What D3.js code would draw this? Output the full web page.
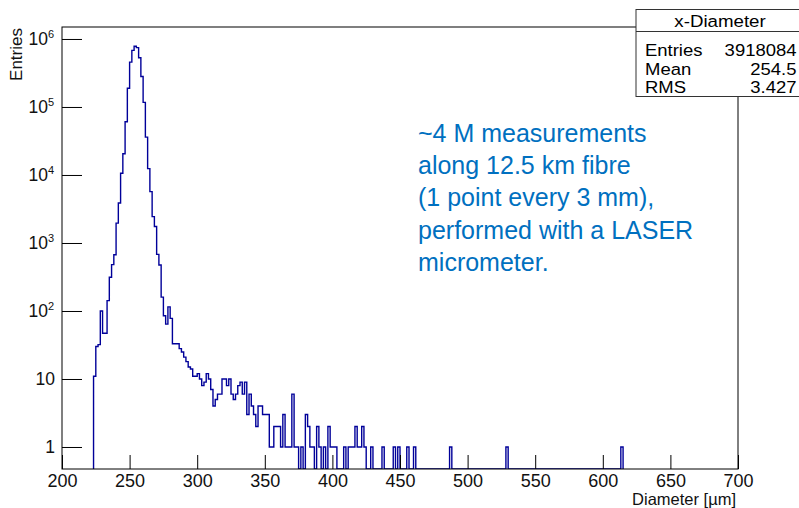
<!DOCTYPE html>
<html><head><meta charset="utf-8">
<script src="https://cdn.jsdelivr.net/npm/d3@7"></script>
<style>
body{margin:0;background:#fff}
svg{display:block}
text{font-family:"Liberation Sans",Arial,sans-serif}
</style>
</head><body>
<svg id="c" width="799" height="508"></svg>
<script>
// ---------------- data ----------------
const histMin = 200, histMax = 700, nBins = 300;   // histogram definition (µm)
const coreFirstBin = 14;                            // index of first filled bin
const coreCounts = [
  11, 30, 32, 100, 47, 47, 142, 313, 480, 670,
  1960, 3880, 10600, 20500, 60700, 189000, 457000, 680000, 780000, 745000,
  530000, 280000, 117000, 36000, 12400, 5700, 2440, 1750, 680, 475,
  160, 85, 64, 115, 78, 33, 33, 33, 28, 25,
  21, 18, 15, 14, 11, 11, 12, 10, 8, 9,
  12, 10, 7, 4, 5, 6, 6, 10, 10, 8,
  10, 6, 5, 6, 8, 9, 6, 9, 3, 6,
  4, 3, 2, 4, 4, 3, 3, 3, 1, 1,
  2, 2, 2, 1, 3, 1, 1, 1, 6, 1, 1
];
const tailBins   = [106,108,109,110,111,113,114,116,118,119,120,121,125,127,128,129,130,131,132,133,134,137,142,147,149,153,156,172,197,248];
const tailCounts = [  1,  3,  2,  1,  1,  2,  1,  1,  2,  1,  1,  1,  1,  1,  1,  1,  2,  1,  1,  2,  1,  1,  1,  1,  1,  1,  1,  1,  1,  1];

const xTicks = [200, 250, 300, 350, 400, 450, 500, 550, 600, 650, 700];
const xMinorStep = 10;
const yDecades = [0, 1, 2, 3, 4, 5, 6];
const xTitle = "Diameter [µm]";
const yTitle = "Entries";
const statsTitle = "x-Diameter";
const statsLabels = ["Entries", "Mean", "RMS"];
const statsValues = ["3918084", "254.5", "3.427"];
const noteLines = ["~4 M measurements", "along 12.5 km fibre", "(1 point every 3 mm),", "performed with a LASER", "micrometer."];

// ---------------- layout ----------------
const L = 62, R = 738, T = 27, B = 469;
const svg = d3.select("#c");
const x = d3.scaleLinear().domain([histMin, histMax]).range([L, R]);
const y = d3.scaleLog().domain([0.4747, 1.5e6]).range([B, T]);
const bw = (histMax - histMin) / nBins;

const counts = new Array(nBins).fill(0);
coreCounts.forEach((c, i) => counts[coreFirstBin + i] = c);
tailBins.forEach((k, i) => counts[k] = tailCounts[i]);

let first = counts.findIndex(c => c > 0);
let last = nBins - 1; while (counts[last] === 0) last--;
const pts = [[x(histMin + first * bw), B]];
for (let k = first; k <= last; k++) {
  const yv = counts[k] > 0 ? y(counts[k]) : B;
  pts.push([x(histMin + k * bw), yv]);
  pts.push([x(histMin + (k + 1) * bw), yv]);
}
pts.push([x(histMin + (last + 1) * bw), B]);

svg.append("clipPath").attr("id", "clip").append("rect")
  .attr("x", L).attr("y", T).attr("width", R - L).attr("height", B - T);

svg.append("path")
  .attr("d", d3.line()(pts))
  .attr("fill", "none").attr("stroke", "#000099").attr("stroke-width", 1.4)
  .attr("clip-path", "url(#clip)");

// frame
svg.append("rect").attr("x", L).attr("y", T).attr("width", R - L).attr("height", B - T)
  .attr("fill", "none").attr("stroke", "#000").attr("stroke-width", 1);

// x axis
const gx = svg.append("g").attr("transform", `translate(0,${B})`);
gx.call(d3.axisBottom(x).tickValues(d3.range(histMin, histMax + 1, xMinorStep)).tickSize(-7).tickFormat(""));
gx.call(d3.axisBottom(x).tickValues(xTicks).tickSize(-14).tickPadding(5).tickFormat(d3.format("d")));
gx.selectAll(".domain").remove();
gx.selectAll("line").attr("stroke", "#000");
gx.selectAll("text").attr("font-size", 18).attr("fill", "#111").attr("font-family", "Liberation Sans, Arial, sans-serif");

// y axis
const minor = [];
for (let d = -1; d <= 6; d++) for (let m = 2; m <= 9; m++) {
  const v = m * Math.pow(10, d);
  if (v >= y.domain()[0] && v <= y.domain()[1]) minor.push(v);
}
const gy = svg.append("g").attr("transform", `translate(${L},0)`);
gy.call(d3.axisLeft(y).tickValues(minor).tickSize(-11).tickFormat(""));
gy.call(d3.axisLeft(y).tickValues(yDecades.map(e => Math.pow(10, e))).tickSize(-20).tickFormat(""));
gy.selectAll(".domain").remove();
gy.selectAll("line").attr("stroke", "#000");

const yl = svg.append("g");
yDecades.forEach(e => {
  const t = yl.append("text").attr("x", 55).attr("y", y(Math.pow(10, e)) + 6.5)
    .attr("text-anchor", "end").attr("font-size", 17.5).attr("fill", "#111");
  if (e === 0) t.text("1");
  else if (e === 1) t.text("10");
  else {
    t.attr("x", 54);
    t.append("tspan").text("10");
    t.append("tspan").attr("font-size", 11).attr("dy", -7).text(String(e));
  }
});

// axis titles
svg.append("text").attr("x", 736).attr("y", 505).attr("text-anchor", "end")
  .attr("font-size", 16.5).attr("fill", "#111").text(xTitle);
svg.append("text").attr("transform", "translate(22,28) rotate(-90)").attr("text-anchor", "end")
  .attr("font-size", 17).attr("fill", "#111").text(yTitle);

// stats box
const sb = svg.append("g");
sb.append("rect").attr("x", 636).attr("y", 9.5).attr("width", 175).attr("height", 87)
  .attr("fill", "#fff").attr("stroke", "#333").attr("stroke-width", 1);
sb.append("line").attr("x1", 636).attr("x2", 799).attr("y1", 31.5).attr("y2", 31.5).attr("stroke", "#333");
sb.append("text").attr("transform", "translate(720,27.3) scale(1.1,1)").attr("text-anchor", "middle")
  .attr("font-size", 17).attr("fill", "#000").text(statsTitle);
const rowY = [56, 75, 93.3];
statsLabels.forEach((s, i) => {
  sb.append("text").attr("transform", `translate(645,${rowY[i]}) scale(1.1,1)`)
    .attr("font-size", 16.8).attr("fill", "#000").text(s);
  sb.append("text").attr("transform", `translate(796.5,${rowY[i]}) scale(1.1,1)`).attr("text-anchor", "end")
    .attr("font-size", 16.8).attr("fill", "#000").text(statsValues[i]);
});

// annotation
const note = svg.append("g");
noteLines.forEach((s, i) => {
  note.append("text").attr("x", 418).attr("y", 142 + i * 32.2)
    .attr("font-family", "Lato, 'Open Sans', sans-serif").attr("font-size", 25)
    .attr("fill", "#0070C0").text(s);
});
</script>
</body></html>
